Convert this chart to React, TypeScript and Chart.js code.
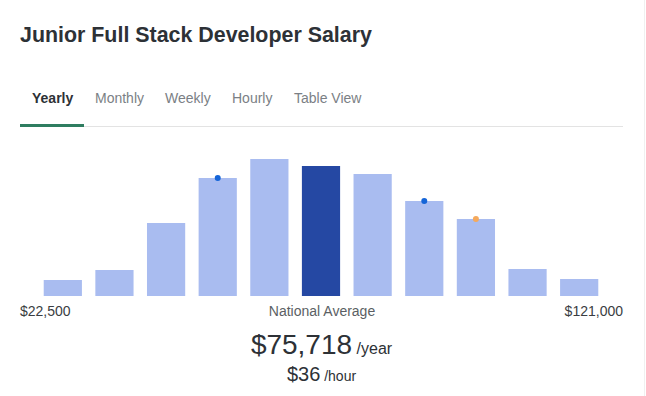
import React, { useEffect, useRef } from "react";
import { Chart, registerables } from "chart.js";

Chart.register(...registerables);

const bins = ["b1", "b2", "b3", "b4", "b5", "b6", "b7", "b8", "b9", "b10", "b11"];
const counts = [16, 26, 73, 118, 137, 130, 122, 95, 77, 27, 17];
const highlightIndex = 5;
const blueMarkers = [null, null, null, 118, null, null, null, 95, null, null, null];
const orangeMarkers = [null, null, null, null, null, null, null, null, 77, null, null];
const tabs = ["Yearly", "Monthly", "Weekly", "Hourly", "Table View"];
const tabLefts = [32, 95, 165, 232, 294];
const minLabel = "$22,500";
const maxLabel = "$121,000";
const avgLabel = "National Average";
const avgYear = "$75,718";
const avgHour = "$36";

const FONT = '"Liberation Sans", Arial, sans-serif';

function SalaryChart() {
  const ref = useRef<HTMLCanvasElement | null>(null);
  useEffect(() => {
    if (!ref.current) return;
    const light = "#a9bcf0";
    const dark = "#2548a3";
    const chart = new Chart(ref.current, {
      type: "bar",
      data: {
        labels: bins,
        datasets: [
          {
            type: "line" as any,
            data: blueMarkers as any,
            showLine: false,
            pointRadius: 3,
            pointBackgroundColor: "#1565d8",
            pointBorderWidth: 0,
            order: 0,
          } as any,
          {
            type: "line" as any,
            data: orangeMarkers as any,
            showLine: false,
            pointRadius: 3,
            pointBackgroundColor: "#f5a95c",
            pointBorderWidth: 0,
            order: 0,
          } as any,
          {
            data: counts,
            backgroundColor: counts.map((_, i) => (i === highlightIndex ? dark : light)),
            borderWidth: 0,
            categoryPercentage: 1,
            barPercentage: 0.74,
            order: 1,
          },
        ],
      },
      options: {
        animation: false,
        responsive: true,
        maintainAspectRatio: false,
        layout: { autoPadding: false, padding: { left: 37, right: 41, top: 0, bottom: 0 } } as any,
        plugins: { legend: { display: false }, tooltip: { enabled: false } },
        scales: {
          x: { display: false, offset: true },
          y: { display: false, min: 0, max: 156 },
        },
      },
    });
    return () => chart.destroy();
  }, []);
  return (
    <div style={{ position: "absolute", left: 0, top: 140, width: 646, height: 156 }}>
      <canvas ref={ref} />
    </div>
  );
}

export default function App() {
  return (
    <div
      style={{
        position: "absolute",
        left: 0,
        top: 0,
        width: 646,
        height: 396,
        background: "#fff",
        fontFamily: FONT,
        color: "#333",
        overflow: "hidden",
      }}
    >
      <div
        style={{
          position: "absolute",
          left: 20,
          top: 25,
          fontSize: 21.4,
          lineHeight: "21px",
          fontWeight: 700,
          color: "#2d3136",
          whiteSpace: "nowrap",
        }}
      >
        Junior Full Stack Developer Salary
      </div>
      {tabs.map((t, i) => (
        <div
          key={t}
          style={{
            position: "absolute",
            left: tabLefts[i],
            top: 91,
            fontSize: 14,
            lineHeight: "14px",
            fontWeight: i === 0 ? 700 : 400,
            color: i === 0 ? "#2d3136" : "#7b7f85",
            whiteSpace: "nowrap",
          }}
        >
          {t}
        </div>
      ))}
      <div style={{ position: "absolute", left: 20, top: 126, width: 603, height: 1, background: "#e3e3e3" }} />
      <div style={{ position: "absolute", left: 20, top: 124, width: 64, height: 3, background: "#2f7d60" }} />
      <div style={{ position: "absolute", left: 644, top: 0, width: 1, height: 396, background: "#f0f0f0" }} />
      <SalaryChart />
      <div style={{ position: "absolute", left: 20, top: 304, fontSize: 14, lineHeight: "14px", color: "#3a3d42" }}>
        {minLabel}
      </div>
      <div
        style={{
          position: "absolute",
          left: 0,
          width: 644,
          top: 304,
          fontSize: 14,
          lineHeight: "14px",
          color: "#5b5f64",
          textAlign: "center",
        }}
      >
        {avgLabel}
      </div>
      <div
        style={{
          position: "absolute",
          right: 23,
          top: 304,
          fontSize: 14,
          lineHeight: "14px",
          color: "#3a3d42",
          textAlign: "right",
        }}
      >
        {maxLabel}
      </div>
      <div
        style={{
          position: "absolute",
          left: 0,
          width: 643,
          top: 331,
          fontSize: 28,
          lineHeight: "28px",
          color: "#2d3136",
          textAlign: "center",
          whiteSpace: "nowrap",
        }}
      >
        {avgYear}
        <span style={{ fontSize: 16 }}> /year</span>
      </div>
      <div
        style={{
          position: "absolute",
          left: 0,
          width: 643,
          top: 364,
          fontSize: 20,
          lineHeight: "20px",
          color: "#2d3136",
          textAlign: "center",
          whiteSpace: "nowrap",
        }}
      >
        {avgHour}
        <span style={{ fontSize: 14 }}> /hour</span>
      </div>
    </div>
  );
}
